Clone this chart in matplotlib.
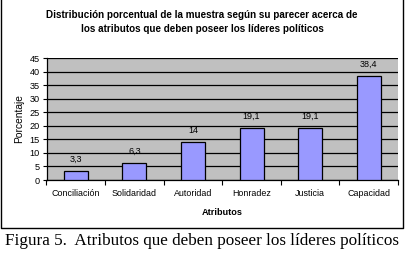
import matplotlib
matplotlib.use("Agg")
import matplotlib.pyplot as plt
from matplotlib.lines import Line2D

plt.rcParams["font.family"] = ["Liberation Sans", "DejaVu Sans"]

# Data
categories = ["Conciliación", "Solidaridad", "Autoridad", "Honradez", "Justicia", "Capacidad"]
values = [3.3, 6.3, 14, 19.1, 19.1, 38.4]
value_labels = ["3,3", "6,3", "14", "19,1", "19,1", "38,4"]
yticks = [0, 5, 10, 15, 20, 25, 30, 35, 40, 45]

fig = plt.figure(figsize=(4.05, 2.54), dpi=100)
ax = fig.add_axes([46.5 / 405, 1 - 180 / 254, (398 - 46.5) / 405, (180 - 58) / 254])

x = list(range(len(categories)))
ax.set_facecolor("#C0C0C0")
ax.set_axisbelow(True)
ax.yaxis.grid(True, color="black", linewidth=0.9)
ax.bar(x, values, width=0.41, color="#9999FF", edgecolor="black", linewidth=0.9, zorder=3)

for xi, v, lab in zip(x, values, value_labels):
    ax.annotate(lab, (xi, v), xytext=(0, 5), textcoords="offset points",
                ha="center", va="bottom", fontsize=6.5)

ax.set_xlim(-0.5, len(categories) - 0.5)
ax.set_ylim(0, 45)
ax.set_yticks(yticks)
ax.set_yticklabels([str(t) for t in yticks], fontsize=6.6)
ax.set_xticks(x)
ax.set_xticklabels(categories, fontsize=6.4)
ax.tick_params(axis="x", length=0, pad=6.5)
ax.set_xticks([i + 0.5 for i in range(-1, len(categories))], minor=True)
ax.tick_params(axis="x", which="minor", length=3.5, width=0.8, direction="out")
ax.tick_params(axis="y", length=3, width=0.8, pad=2)

for s in ["top", "right"]:
    ax.spines[s].set_visible(False)
ax.spines["left"].set_linewidth(0.9)
ax.spines["bottom"].set_linewidth(0.9)

ax.set_xlabel("Atributos", fontsize=6.6, fontweight="bold", labelpad=7)
ax.set_ylabel("Porcentaje", fontsize=7.4, labelpad=4)

fig.text(202 / 405, 1 - 15 / 254, "Distribución porcentual de la muestra según su parecer acerca de",
         ha="center", va="center", fontsize=7.1, fontweight="bold")
fig.text(202 / 405, 1 - 29 / 254, "los atributos que deben poseer los líderes políticos",
         ha="center", va="center", fontsize=7.1, fontweight="bold")

# outer frame (left, right, bottom)
fx0, fx1, fy0, fy1 = 0.7 / 405, 403 / 405, 1 - 228 / 254, 1.0
fig.add_artist(Line2D([fx0, fx0, fx1, fx1], [fy1, fy0, fy0, fy1], color="black", linewidth=1.0,
                      transform=fig.transFigure))

fig.text(202 / 405, 1 - 241 / 254, "Figura 5.  Atributos que deben poseer los líderes políticos",
         ha="center", va="center", fontsize=12.3, family=["Liberation Serif", "DejaVu Serif"])

fig.savefig("out.png", dpi=100)
